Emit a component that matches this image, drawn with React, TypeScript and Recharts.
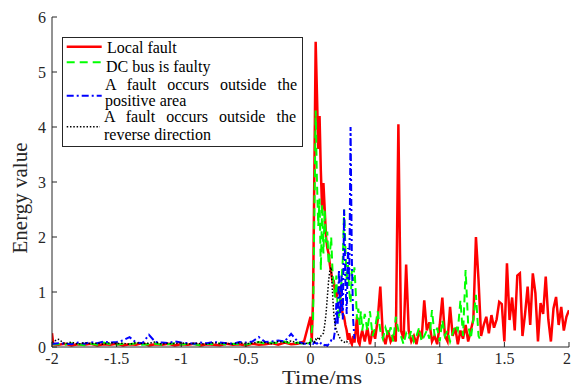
import { LineChart, Line, XAxis, YAxis, Legend, Label } from "recharts"

// time axis (ms): coarse before the fault, fine around it, medium afterwards
const times = [
  -2, -1.99, -1.95, -1.9, -1.85, -1.8, -1.75, -1.7, -1.65, -1.6, -1.55,
  -1.5, -1.45, -1.4, -1.35, -1.3, -1.25, -1.2, -1.15, -1.1, -1.05,
  -1, -0.95, -0.9, -0.85, -0.8, -0.75, -0.7, -0.65, -0.6, -0.55,
  -0.5, -0.45, -0.4, -0.35, -0.3, -0.25, -0.2, -0.15, -0.1, -0.05,
  0, 0.01, 0.02, 0.03, 0.04, 0.05, 0.06, 0.07, 0.08, 0.09,
  0.1, 0.11, 0.12, 0.13, 0.14, 0.15, 0.16, 0.17, 0.18, 0.19,
  0.2, 0.21, 0.22, 0.23, 0.24, 0.25, 0.26, 0.27, 0.28, 0.29,
  0.3, 0.31, 0.32, 0.33, 0.34, 0.35, 0.36, 0.37, 0.38, 0.39,
  0.4,
  0.42, 0.44, 0.46, 0.48, 0.5, 0.52, 0.54, 0.56, 0.58, 0.6,
  0.62, 0.64, 0.66, 0.68, 0.7, 0.72, 0.74, 0.76, 0.78, 0.8,
  0.82, 0.84, 0.86, 0.88, 0.9, 0.92, 0.94, 0.96, 0.98, 1,
  1.02, 1.04, 1.06, 1.08, 1.1, 1.12, 1.14, 1.16, 1.18, 1.2,
  1.22, 1.24, 1.26, 1.28, 1.3, 1.32, 1.34, 1.36, 1.38, 1.4,
  1.42, 1.44, 1.46, 1.48, 1.5, 1.52, 1.54, 1.56, 1.58, 1.6,
  1.62, 1.64, 1.66, 1.68, 1.7, 1.72, 1.74, 1.76, 1.78, 1.8,
  1.82, 1.84, 1.86, 1.88, 1.9, 1.92, 1.94, 1.96, 1.98, 2,
]

const localFault = [
  0.25, 0.05, 0.04, 0.06, 0.03, 0.05, 0.04, 0.06, 0.03, 0.05, 0.04,
  0.06, 0.03, 0.05, 0.04, 0.07, 0.03, 0.05, 0.04, 0.06, 0.03,
  0.05, 0.04, 0.06, 0.03, 0.05, 0.04, 0.03, 0.06, 0.04, 0.05,
  0.03, 0.06, 0.04, 0.05, 0.07, 0.04, 0.08, 0.05, 0.06, 0.1,
  0.55, 0.12, 0.9, 3.2, 5.55, 4.6, 3.6, 4.2, 3.2, 2.5,
  2.98, 2.5, 2.0, 1.8, 1.7, 1.5, 1.35, 1.2, 1.2, 1.0,
  0.9, 1.0, 1.1, 0.9, 0.7, 0.6, 0.55, 0.4, 0.3, 0.13,
  0.25, 0.1, 0.05, 0.2, 0.08, 0.3, 0.55, 0.1, 0.05, 0.2,
  0.3,
  0.1, 0.35, 0.05, 0.3, 0.15, 0.5, 1.1, 0.2, 0.05, 0.3,
  0.1, 0.2, 0.1, 4.05, 0.3, 0.15, 1.5, 0.3, 0.1, 0.2,
  0.05, 0.3, 0.15, 0.85, 0.3, 0.45, 0.1, 0.2, 0.05, 0.4,
  0.9, 0.2, 0.1, 0.73, 0.2, 0.35, 0.05, 0.3, 0.15, 0.4,
  0.1, 0.3, 0.5, 2.0, 1.22, 0.2, 0.4, 0.55, 0.25, 0.58,
  0.35, 0.5, 0.82, 0.78, 0.1, 1.52, 0.49, 0.9, 0.3, 1.3,
  1.34, 0.2, 0.6, 1.1, 0.4, 1.34, 0.98, 0.1, 0.8, 0.6,
  1.28, 0.5, 0.1, 0.7, 0.91, 0.4, 0.73, 0.3, 0.55, 0.67,
]

const dcBusFault = [
  0.06, 0.05, 0.05, 0.04, 0.07, 0.05, 0.03, 0.06, 0.04, 0.08, 0.05,
  0.04, 0.06, 0.05, 0.07, 0.04, 0.05, 0.06, 0.04, 0.05, 0.07,
  0.04, 0.06, 0.05, 0.03, 0.06, 0.05, 0.07, 0.04, 0.06, 0.05,
  0.04, 0.07, 0.09, 0.06, 0.08, 0.07, 0.1, 0.06, 0.08, 0.05,
  0.08, 0.3, 0.5, 2.5, 4.3, 3.0, 2.2, 2.7, 1.4, 2.6,
  1.7, 2.5, 1.9, 2.1, 1.5, 1.7, 2.0, 1.4, 1.1, 0.9,
  1.3, 0.7, 0.5, 0.9, 1.2, 1.6, 2.5, 1.8, 1.2, 1.5,
  1.0, 0.8, 1.4, 1.2, 1.45, 1.0, 0.5, 0.7, 0.4, 0.65,
  0.3,
  0.6, 0.3, 0.65, 0.2, 0.35, 0.65, 0.3, 0.15, 0.35, 0.2,
  0.36, 0.1, 0.55, 0.3, 0.2, 0.05, 0.25, 0.15, 0.3, 0.1,
  0.2, 0.35, 0.1, 0.2, 0.3, 0.15, 0.67, 0.2, 0.35, 0.1,
  0.49, 0.2, 0.3, 0.1, 0.25, 0.4, 0.3, 0.85, 0.2, 1.4,
  0.4, 0.15, 0.5, 0.95, 0.2, 0.1,
]

const positiveAreaFault = [
  0.05, 0.06, 0.07, 0.06, 0.05, 0.08, 0.06, 0.09, 0.07, 0.1, 0.08,
  0.09, 0.12, 0.18, 0.08, 0.07, 0.22, 0.09, 0.08, 0.07, 0.1,
  0.08, 0.07, 0.06, 0.08, 0.07, 0.09, 0.08, 0.07, 0.06, 0.09,
  0.08, 0.1, 0.18, 0.09, 0.1, 0.12, 0.1, 0.24, 0.1, 0.06,
  0.05, 0.08, 0.06, 0.09, 0.07, 0.06, 0.08, 0.05, 0.07, 0.04,
  0.05, 0.03, 0.04, 0.02, 0.05, 0.08, 0.12, 0.1, 0.15, 0.3,
  0.8, 0.4, 1.4, 0.6, 1.3, 0.5, 2.5, 1.2, 0.6, 1.8,
  1.2, 4.0, 1.6, 0.5, 0.15,
]

const reverseDirectionFault = [
  0.08, 0.1, 0.14, 0.06, 0.09, 0.05, 0.08, 0.06, 0.07, 0.05, 0.08,
  0.06, 0.07, 0.05, 0.08, 0.06, 0.07, 0.09, 0.05, 0.07, 0.06,
  0.08, 0.05, 0.07, 0.06, 0.05, 0.08, 0.06, 0.07, 0.05, 0.08,
  0.06, 0.07, 0.09, 0.08, 0.06, 0.1, 0.08, 0.11, 0.07, 0.06,
  0.08, 0.1, 0.12, 0.09, 0.14, 0.12, 0.18, 0.15, 0.2, 0.22,
  0.25, 0.4, 0.6, 0.9, 1.2, 1.4, 1.45, 1.0, 0.6, 0.4,
  0.3, 0.25, 0.2, 0.15, 0.12, 0.1, 0.09, 0.08, 0.1, 0.07,
  0.06,
]

const xTicks = [-2, -1.5, -1, -0.5, 0, 0.5, 1, 1.5, 2]
const yTicks = [0, 1, 2, 3, 4, 5, 6]

const FONT = '"Liberation Serif", "Times New Roman", serif'
const AXIS = "#262626"

const data = times.map((t, i) => ({
  t,
  local: localFault[i] ?? null,
  dcBus: dcBusFault[i] ?? null,
  positive: positiveAreaFault[i] ?? null,
  reverse: reverseDirectionFault[i] ?? null,
}))

const tickStyle = { fontFamily: FONT, fontSize: 16, fill: AXIS }

function LegendBox() {
  const text = { position: "absolute" as const, whiteSpace: "nowrap" as const }
  const justified = { ...text, width: 192, textAlign: "justify" as const, textAlignLast: "justify" as const }
  return (
    <div
      style={{
        position: "relative",
        width: 241,
        height: 110,
        boxSizing: "border-box",
        border: `1px solid ${AXIS}`,
        background: "#fff",
        fontFamily: FONT,
        fontSize: 16,
        lineHeight: "16px",
        color: "#000",
      }}
    >
      <svg width={42} height={108} style={{ position: "absolute", left: 0, top: 0 }}>
        <line x1={3.7} x2={38.7} y1={8.7} y2={8.7} stroke="#ff0000" strokeWidth={2.5} />
        <line x1={3.7} x2={38.7} y1={24.3} y2={24.3} stroke="#00ff00" strokeWidth={2} strokeDasharray="8 5" />
        <line x1={3.7} x2={38.7} y1={57.7} y2={57.7} stroke="#0000ff" strokeWidth={2} strokeDasharray="7 3 2 3" />
        <line x1={3.7} x2={37} y1={88.7} y2={88.7} stroke="#000" strokeWidth={1.5} strokeDasharray="1.5 1.8" />
      </svg>
      <div style={{ ...text, left: 44, top: 1.6 }}>Local fault</div>
      <div style={{ ...text, left: 43, top: 20.6 }}>DC bus is faulty</div>
      <div style={{ ...justified, left: 42, top: 38.6 }}>A fault occurs outside the</div>
      <div style={{ ...text, left: 42, top: 55.3 }}>positive area</div>
      <div style={{ ...justified, left: 41, top: 71.3 }}>A fault occurs outside the</div>
      <div style={{ ...text, left: 41, top: 88.6 }}>reverse direction</div>
    </div>
  )
}

export default function App() {
  return (
    <div style={{ position: "absolute", left: 0, top: 0, width: 571, height: 388, background: "#fff" }}>
      <LineChart width={571} height={388} data={data} margin={{ top: 17, right: 2, bottom: 0, left: 0 }}>
        <XAxis
          dataKey="t"
          type="number"
          domain={[-2, 2]}
          ticks={xTicks}
          allowDataOverflow
          height={41}
          stroke={AXIS}
          tick={tickStyle}
          tickSize={-5}
          tickMargin={11}
        >
          <Label
            content={() => (
              <text
                x={322}
                y={384}
                textAnchor="middle"
                fontFamily={FONT}
                fontSize={18}
                fill={AXIS}
                textLength={80}
                lengthAdjust="spacingAndGlyphs"
              >
                Time/ms
              </text>
            )}
          />
        </XAxis>
        <XAxis
          xAxisId="top"
          orientation="top"
          type="number"
          domain={[-2, 2]}
          ticks={xTicks}
          allowDataOverflow
          height={0}
          stroke={AXIS}
          tickSize={-5}
          tickFormatter={() => ""}
        />
        <YAxis
          type="number"
          domain={[0, 6]}
          ticks={yTicks}
          allowDataOverflow
          width={52}
          stroke={AXIS}
          tick={tickStyle}
          tickSize={-5}
          tickMargin={11}
        >
          <Label
            content={() => (
              <text
                x={27}
                y={198}
                transform="rotate(-90 27 198)"
                textAnchor="middle"
                fontFamily={FONT}
                fontSize={21}
                fill={AXIS}
              >
                Energy value
              </text>
            )}
          />
        </YAxis>
        <YAxis
          yAxisId="right"
          orientation="right"
          type="number"
          domain={[0, 6]}
          ticks={yTicks}
          allowDataOverflow
          width={0}
          stroke={AXIS}
          tickSize={-5}
          tickFormatter={() => ""}
        />
        <Legend
          layout="vertical"
          align="center"
          verticalAlign="middle"
          wrapperStyle={{ left: 62, top: 37, width: 241, height: 110 }}
          content={() => <LegendBox />}
        />
        <Line dataKey="local" name="Local fault" stroke="#ff0000" strokeWidth={2.5} dot={false} isAnimationActive={false} />
        <Line dataKey="dcBus" name="DC bus is faulty" stroke="#00ff00" strokeWidth={2} strokeDasharray="8 5" dot={false} isAnimationActive={false} />
        <Line dataKey="positive" name="A fault occurs outside the positive area" stroke="#0000ff" strokeWidth={2} strokeDasharray="7 3 2 3" dot={false} isAnimationActive={false} />
        <Line dataKey="reverse" name="A fault occurs outside the reverse direction" stroke="#000000" strokeWidth={1.5} strokeDasharray="1.5 1.8" dot={false} isAnimationActive={false} />
      </LineChart>
    </div>
  )
}
